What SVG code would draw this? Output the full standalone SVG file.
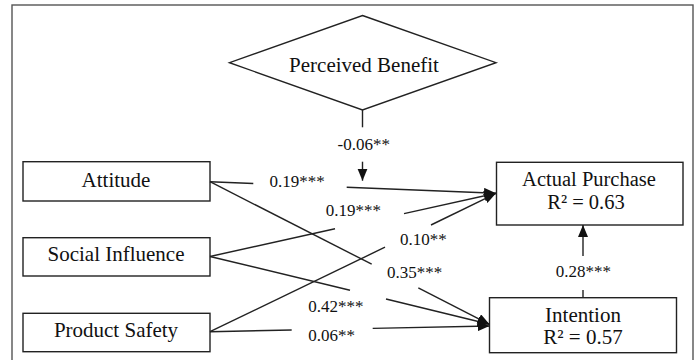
<svg xmlns="http://www.w3.org/2000/svg" width="699" height="360" viewBox="0 0 699 360">
<defs>
<style>
.box{fill:#fff;stroke:#222;stroke-width:1.4}
.frame{fill:#fff;stroke:#555;stroke-width:1.4}
.node{font-family:"Liberation Serif","Times New Roman",serif;font-size:21px;fill:#111;text-anchor:middle}
.two{font-size:20.5px}
.lbl{font-family:"Liberation Serif","Times New Roman",serif;font-size:17px;fill:#111;text-anchor:middle}
.ln{stroke:#222;stroke-width:1.4;fill:none}
</style>
<marker id="ah" markerUnits="userSpaceOnUse" markerWidth="13" markerHeight="11" refX="12" refY="5" orient="auto">
<path d="M0,0 L12,5 L0,10 z" fill="#111"/>
</marker>
</defs>
<rect class="frame" x="12" y="5" width="681" height="365"/>
<g id="perceived-benefit">
<polygon class="box" points="362.5,15.5 496,62.7 362.5,110 229.5,62.7"/>
<text class="node" x="364" y="71.5">Perceived Benefit</text>
</g>
<g id="attitude">
<rect class="box" x="23" y="161.7" width="187" height="39.3"/>
<text class="node" x="116" y="186.7">Attitude</text>
</g>
<g id="social-influence">
<rect class="box" x="23" y="237.7" width="187" height="38.3"/>
<text class="node" x="116" y="261">Social Influence</text>
</g>
<g id="product-safety">
<rect class="box" x="23" y="313.3" width="187" height="38.4"/>
<text class="node" x="116" y="336.7">Product Safety</text>
</g>
<g id="actual-purchase">
<rect class="box" x="496.5" y="162.3" width="186.5" height="62.7"/>
<text class="node two" x="589" y="185.7">Actual Purchase</text>
<text class="node two" x="586" y="208.5">R² = 0.63</text>
</g>
<g id="intention">
<rect class="box" x="489.5" y="297.7" width="187" height="55"/>
<text class="node" x="583" y="321.7">Intention</text>
<text class="node" x="583" y="344">R² = 0.57</text>
</g>
<g id="connectors">
<line class="ln" x1="210" y1="181.7" x2="253.3" y2="183.5"/>
<line class="ln" x1="346.7" y1="187.3" x2="496" y2="193.3" marker-end="url(#ah)"/>
<line class="ln" x1="210" y1="181.7" x2="371.7" y2="264.2"/>
<line class="ln" x1="418.3" y1="287.9" x2="489.5" y2="324.3" marker-end="url(#ah)"/>
<line class="ln" x1="210" y1="256.5" x2="335" y2="228.7"/>
<line class="ln" x1="404" y1="213.6" x2="496" y2="193.3" marker-end="url(#ah)"/>
<line class="ln" x1="210" y1="256.5" x2="350" y2="290.2"/>
<line class="ln" x1="386" y1="299" x2="489.5" y2="324.3" marker-end="url(#ah)"/>
<line class="ln" x1="210" y1="331.7" x2="385" y2="247.2"/>
<line class="ln" x1="431" y1="225" x2="496" y2="193.3" marker-end="url(#ah)"/>
<line class="ln" x1="210" y1="331.7" x2="291.7" y2="330"/>
<line class="ln" x1="372.7" y1="328.4" x2="489.5" y2="326" marker-end="url(#ah)"/>
<line class="ln" x1="583" y1="297.7" x2="583" y2="290"/>
<line class="ln" x1="583" y1="256" x2="583" y2="225" marker-end="url(#ah)"/>
<line class="ln" x1="362.5" y1="110" x2="362.5" y2="127.3"/>
<line class="ln" x1="362.5" y1="161.7" x2="362.5" y2="180.7" marker-end="url(#ah)"/>
<text class="lbl" x="363.7" y="150">-0.06**</text>
<text class="lbl" x="297" y="186.7">0.19***</text>
<text class="lbl" x="353.3" y="215.7">0.19***</text>
<text class="lbl" x="423.3" y="245">0.10**</text>
<text class="lbl" x="414.7" y="277.7">0.35***</text>
<text class="lbl" x="335.8" y="312.3">0.42***</text>
<text class="lbl" x="331.7" y="341">0.06**</text>
<text class="lbl" x="583.3" y="276.7">0.28***</text>
</g>
</svg>
